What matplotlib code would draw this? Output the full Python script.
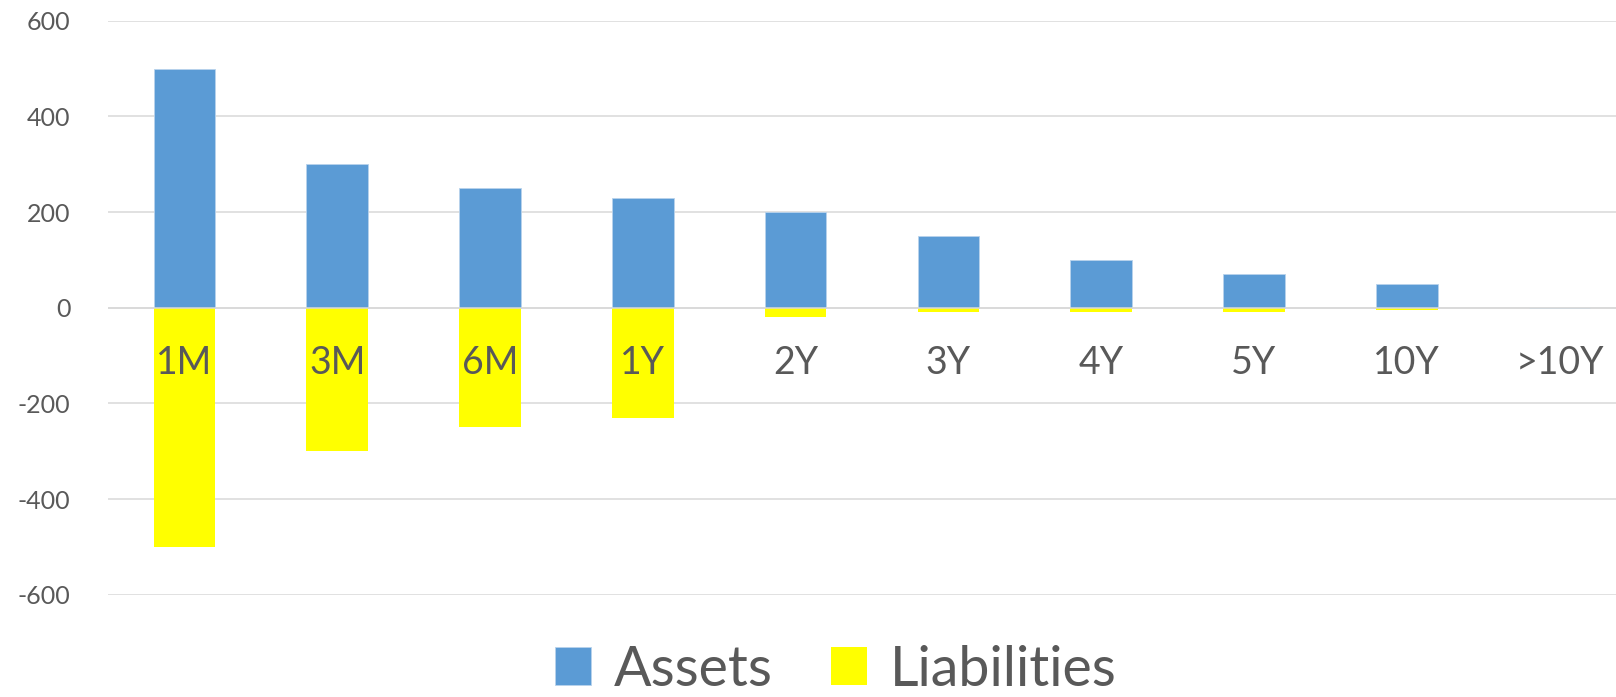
import matplotlib
matplotlib.use("Agg")
import matplotlib.pyplot as plt
import numpy as np

plt.rcParams['font.family'] = ['Lato', 'DejaVu Sans']
plt.rcParams['axes.unicode_minus'] = False

# data
categories = ['1M', '3M', '6M', '1Y', '2Y', '3Y', '4Y', '5Y', '10Y', '>10Y']
assets = [500, 300, 250, 230, 200, 150, 100, 70, 50, 0]
liabilities = [-500, -300, -250, -230, -20, -10, -10, -10, -4, 0]

text_col = '#595959'
blue = '#5B9BD5'
yellow = '#FFFF00'

fig = plt.figure(figsize=(16.16, 6.97), dpi=100)
ax = fig.add_axes([108 / 1616, 0.1468, 1528 / 1616, 0.8235])

x = np.arange(len(categories))
width = 0.404
ax.bar(x, assets, width, color=blue, edgecolor='#b9d3ec', linewidth=0.6,
       label='Assets', zorder=2)
ax.bar(x, liabilities, width, color=yellow, linewidth=0,
       label='Liabilities', zorder=2)

ax.set_xlim(-0.5, len(categories) - 0.5)
ax.set_ylim(-600, 600)
ax.set_yticks(np.arange(-600, 601, 200))
ax.tick_params(axis='y', length=0, pad=27, labelsize=18, labelcolor=text_col)
ax.set_xticks([])
for s in ax.spines.values():
    s.set_visible(False)
ax.yaxis.grid(True, color='#d9d9d9', linewidth=1.1, zorder=0)
ax.set_axisbelow(True)
ax.axhline(0, color='#d9d9d9', linewidth=1.1, zorder=3)

# category labels sit just under the zero line
for i, c in enumerate(categories):
    ax.annotate(c, xy=(i, 0), xytext=(0, -39.6), textcoords='offset points',
                ha='center', va='center', fontsize=27, color=text_col, zorder=4)

leg = fig.legend(loc='center', bbox_to_anchor=(836 / 1616, 27 / 697), ncol=2,
                 frameon=False, fontsize=40, handlelength=0.65,
                 handleheight=0.65, handletextpad=0.41, columnspacing=1.05,
                 borderpad=0)
for t in leg.get_texts():
    t.set_color(text_col)

fig.savefig('out.png', dpi=100)
